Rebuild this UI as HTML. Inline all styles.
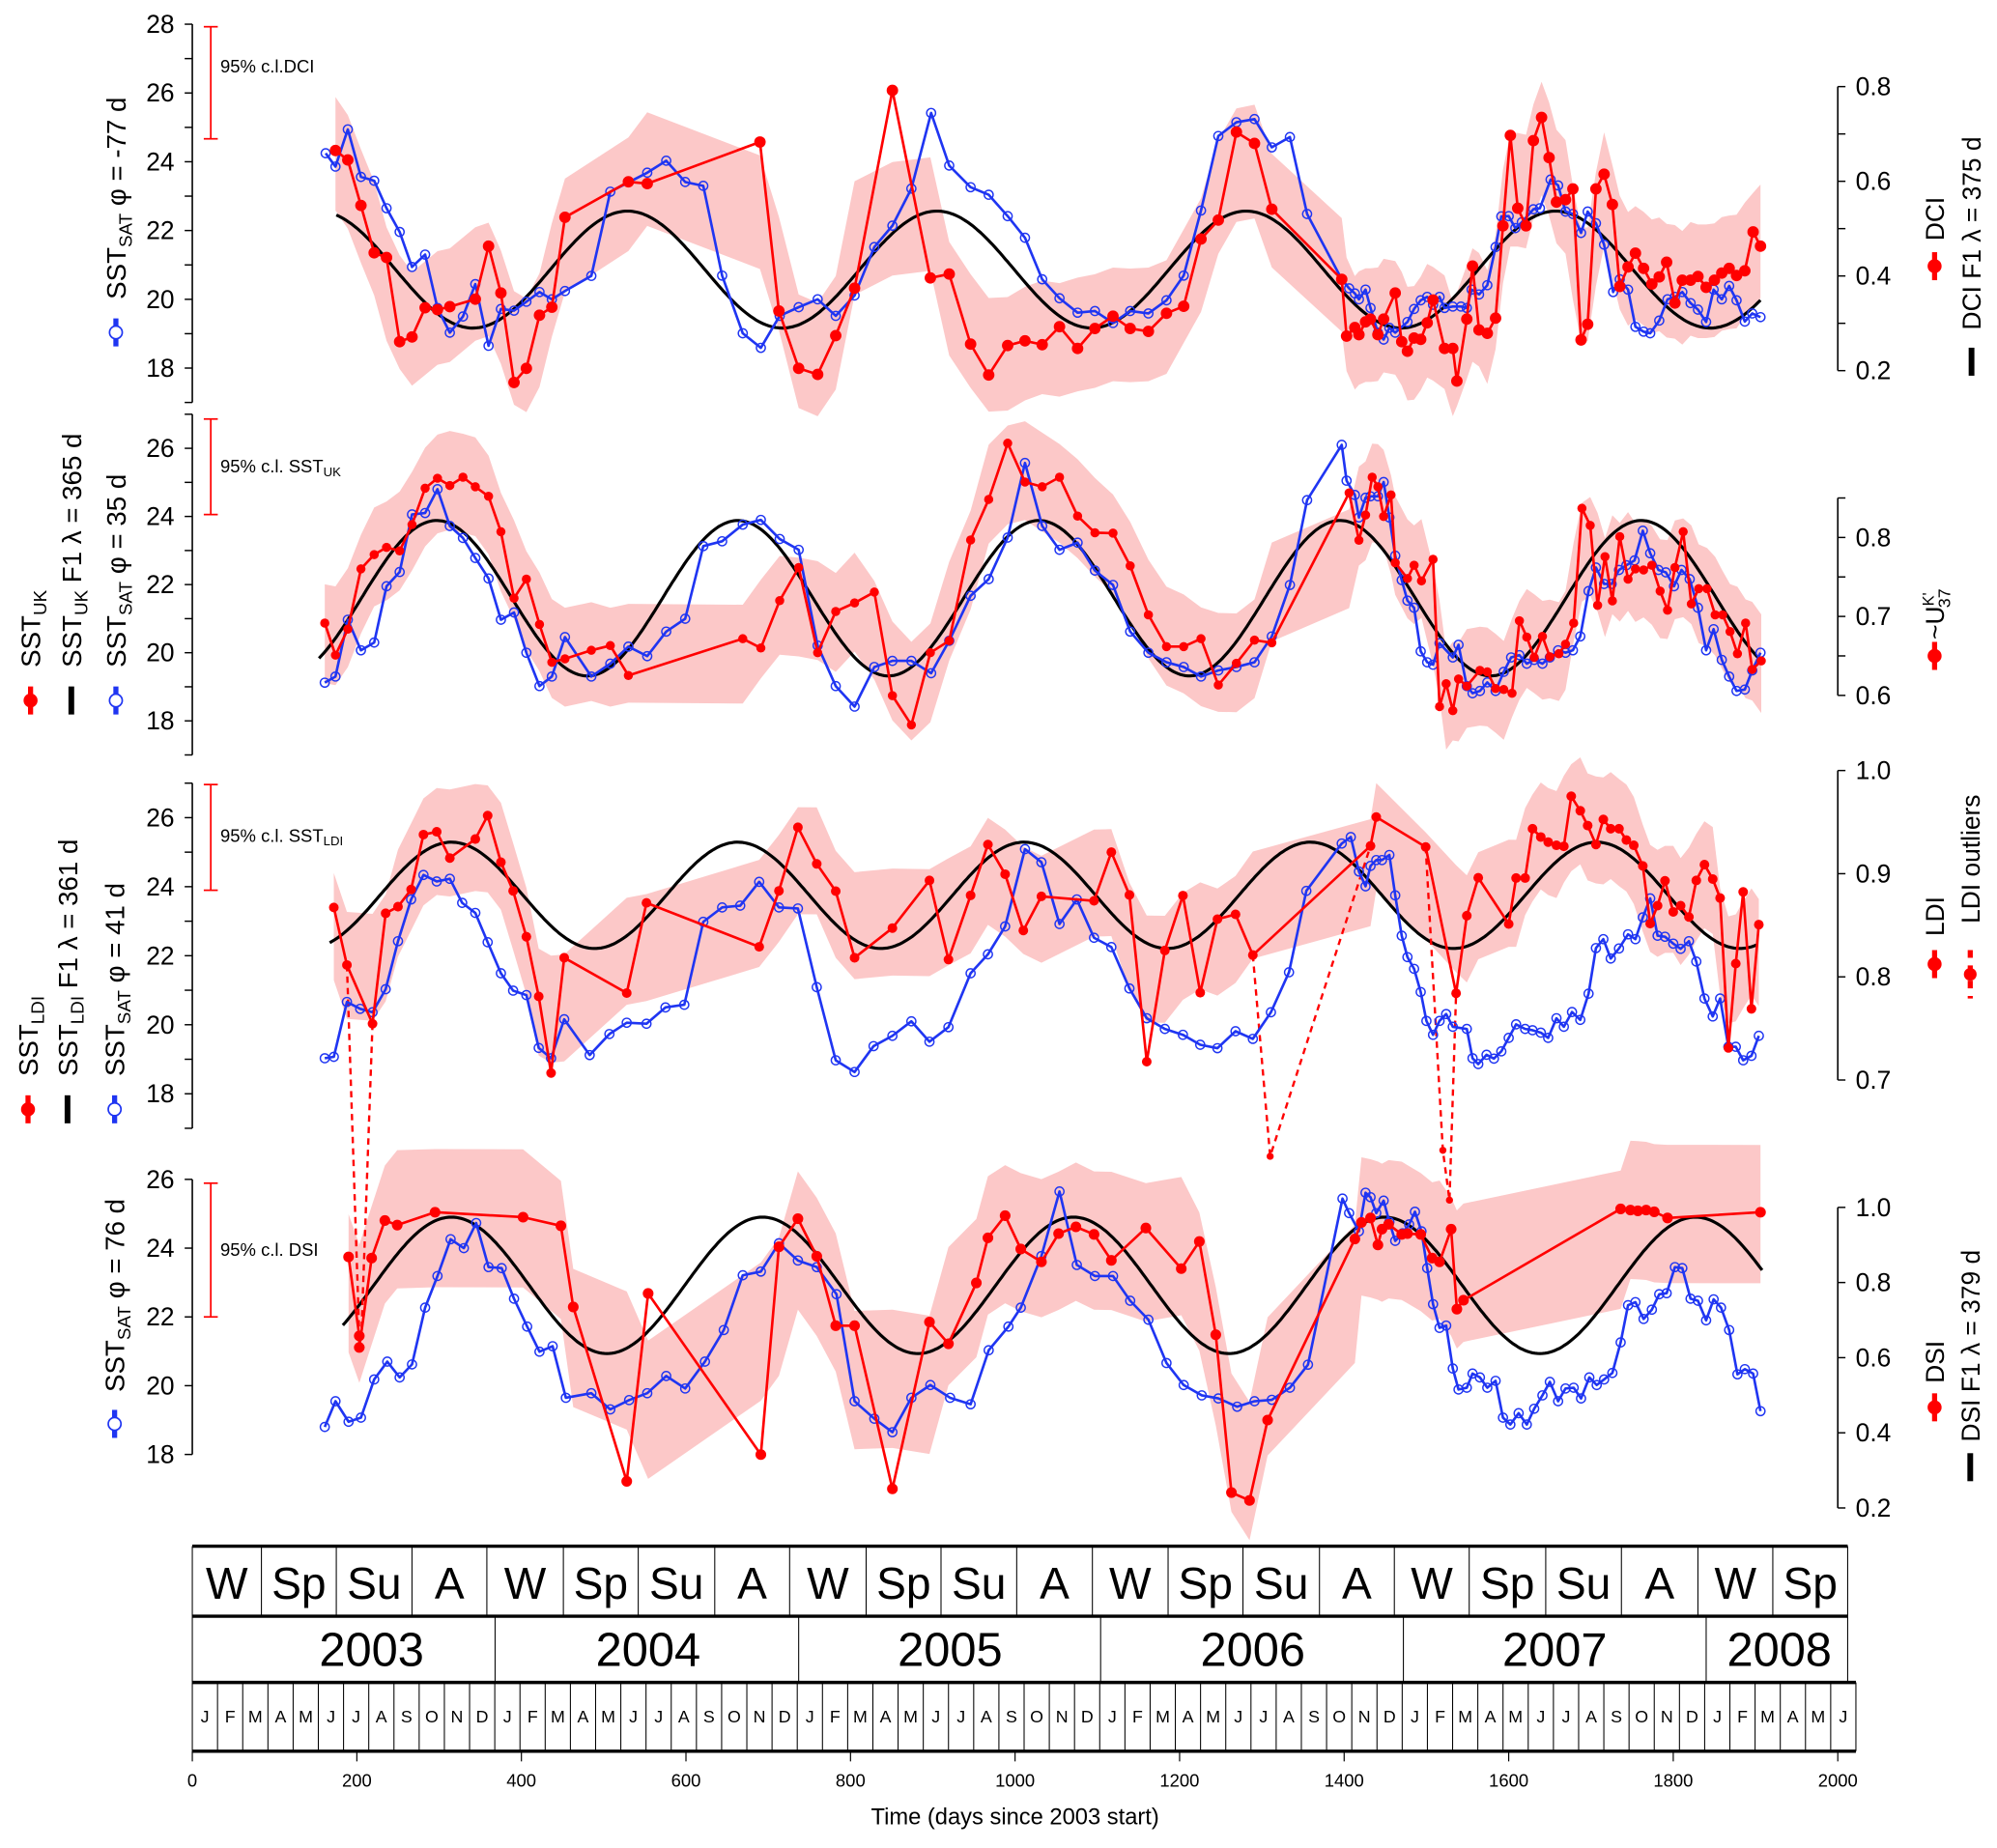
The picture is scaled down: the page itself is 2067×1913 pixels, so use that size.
<!DOCTYPE html>
<html><head><meta charset="utf-8"><title>SST proxies chart</title>
<style>
html,body{margin:0;padding:0;background:#fff;}
svg{display:block;}
text{font-family:"Liberation Sans","DejaVu Sans",sans-serif;fill:#000;}
</style></head>
<body>
<svg id="chart" xmlns="http://www.w3.org/2000/svg" width="2067" height="1913" viewBox="0 0 1568 1451" preserveAspectRatio="none">
<rect x="0" y="0" width="1568" height="1451" fill="#fff"/>
<g id="bands"></g>
<g id="table"></g>
<g id="axes"></g>
<g id="fits"></g>
<g id="series"></g>
<g id="labels"></g>
</svg>
<script>
// ---------- DATA ----------
const p1SatDays=[162,174,189,205,221,236,252,267,283,298,313,329,344,360,375,391,406,422,437,453,485,508,553,576,599,621,644,669,691,714,737,760,782,805,829,851,874,898,920,946,968,
991,1012,1033,1054,1076,1097,1119,1140,1162,1184,1205,1226,1247,1269,1291,1312,1334,1355,1397,1406,1413,1418,1426,1432,1441,1448,1455,1462,1477,1485,1493,1501,1508,1516,1522,1532,1542,1549,1555,1564,1574,1584,1591,1600,1608,1616,1630,1638,1651,1660,1669,1678,1688,1696,1706,1716,1727,1735,1745,1754,1764,1772,1783,1793,1802,1811,1821,1830,1840,1849,1859,1868,1877,1887,1896,1906];
const p1SatT=[24.25,23.86,24.94,23.56,23.45,22.65,21.96,20.94,21.3,19.75,19.03,19.5,20.44,18.65,19.72,19.67,19.93,20.21,20.0,20.24,20.68,23.13,23.68,24.03,23.41,23.3,20.69,19.01,18.59,19.52,19.77,20.0,19.52,20.11,21.52,22.14,23.22,25.42,23.89,23.26,23.04,
22.42,21.79,20.58,20.03,19.61,19.66,19.31,19.66,19.59,19.97,20.69,22.58,24.75,25.15,25.24,24.42,24.72,22.48,20.58,20.32,20.17,20.0,20.28,19.75,19.03,18.83,19.17,19.03,19.34,19.72,19.97,20.07,19.84,20.07,19.75,19.79,19.79,19.75,20.28,20.14,20.41,21.52,22.41,22.42,22.07,22.24,22.62,22.65,23.48,23.31,22.55,22.48,21.93,22.55,22.21,21.59,20.21,20.58,20.28,19.2,19.06,19.01,19.38,20.0,20.07,20.21,19.89,19.7,19.34,20.28,20.0,20.39,19.97,19.35,19.59,19.48];
const p1DciDays=[174,189,205,221,236,252,267,283,298,313,344,360,375,391,406,422,437,453,530,553,690,713,737,760,782,805,851,897,920,946,968,
991,1012,1033,1054,1076,1097,1119,1140,1162,1184,1205,1226,1247,1269,1291,1312,1397,1403,1413,1418,1426,1432,1441,1448,1462,1470,1477,1485,1493,1501,1508,1522,1532,1537,1549,1556,1564,1574,1584,1593,1602,1611,1621,1630,1640,1649,1658,1669,1678,1688,1696,1706,1716,1726,1735,1745,1754,1764,1774,1783,1792,1802,1811,1821,1830,1840,1850,1859,1868,1877,1887,1897,1906];
const p1Dci=[0.665,0.645,0.549,0.449,0.439,0.261,0.271,0.333,0.329,0.335,0.351,0.463,0.364,0.175,0.205,0.317,0.334,0.524,0.599,0.595,0.683,0.326,0.205,0.192,0.274,0.374,0.792,0.396,0.404,0.256,0.191,
0.253,0.263,0.255,0.293,0.247,0.289,0.315,0.289,0.283,0.321,0.336,0.478,0.518,0.704,0.68,0.541,0.393,0.273,0.291,0.276,0.303,0.309,0.276,0.309,0.364,0.261,0.241,0.269,0.266,0.301,0.349,0.247,0.247,0.178,0.309,0.421,0.286,0.279,0.311,0.506,0.697,0.543,0.506,0.686,0.735,0.65,0.556,0.561,0.584,0.265,0.298,0.584,0.615,0.551,0.378,0.419,0.448,0.416,0.383,0.398,0.429,0.343,0.391,0.391,0.399,0.376,0.391,0.406,0.416,0.401,0.411,0.493,0.463];

const p2SatDays=[161,174,189,205,221,236,252,267,283,298,313,329,344,360,375,391,406,422,437,453,485,508,530,553,576,599,621,644,669,691,714,737,760,782,805,829,851,874,898,920,946,968,
991,1012,1033,1054,1076,1097,1119,1140,1162,1184,1205,1226,1247,1269,1291,1312,1334,1355,1397,1403,1413,1418,1426,1432,1441,1448,1455,1462,1470,1477,1485,1493,1501,1508,1516,1532,1539,1549,1556,1565,1574,1584,1594,1603,1613,1622,1631,1641,1650,1660,1669,1678,1687,1697,1706,1716,1725,1734,1743,1753,1763,1772,1782,1791,1801,1810,1820,1830,1840,1849,1859,1868,1877,1887,1896,1906];
const p2SatT=[19.12,19.3,20.97,20.07,20.3,21.95,22.37,24.06,24.1,24.8,23.72,23.37,22.78,22.18,20.97,21.18,20.0,19.02,19.3,20.46,19.3,19.68,20.18,19.9,20.62,21.0,23.13,23.27,23.76,23.9,23.34,23.02,20.21,19.02,18.42,19.58,19.76,19.76,19.4,20.35,21.67,22.16,
23.38,25.57,23.72,23.02,23.23,22.41,21.99,20.62,20.0,19.72,19.58,19.3,19.48,19.58,19.72,20.48,21.99,24.48,26.1,25.05,24.63,23.97,24.55,24.59,24.59,25.01,23.97,22.85,22.13,21.53,21.32,20.04,19.72,19.65,20.28,19.86,20.23,19.02,18.81,18.88,19.13,18.88,19.44,19.86,19.93,19.68,19.79,19.68,19.86,20.07,20.0,20.07,20.48,21.81,22.5,22.02,22.02,22.43,22.57,22.71,23.58,22.92,22.43,22.36,21.95,22.43,22.16,21.32,20.07,20.69,19.79,19.3,18.88,18.92,19.48,20.0];
const p2UkDays=[161,174,189,205,221,236,252,267,283,298,313,329,344,360,375,391,406,422,437,453,485,508,530,669,691,714,737,760,782,805,829,851,874,897,920,946,968,
991,1012,1033,1054,1076,1097,1119,1140,1162,1184,1205,1226,1247,1269,1291,1312,1406,1418,1426,1434,1441,1448,1457,1462,1477,1485,1494,1508,1516,1524,1532,1539,1549,1565,1574,1584,1594,1604,1613,1622,1631,1641,1650,1661,1669,1679,1689,1699,1708,1717,1726,1735,1745,1754,1764,1774,1784,1793,1802,1812,1822,1831,1841,1851,1860,1869,1878,1888,1896,1907];
const p2UkT=[20.87,19.93,20.69,22.46,22.88,23.09,22.99,23.76,24.83,25.12,24.91,25.15,24.87,24.59,23.55,21.6,22.16,20.83,19.72,19.82,20.07,20.21,19.33,20.41,20.14,21.53,22.5,20.0,21.21,21.46,21.78,18.74,17.88,20.0,20.35,23.31,24.5,
26.15,25.01,24.87,25.15,24.01,23.52,23.51,22.55,21.11,20.18,20.18,20.41,19.05,19.69,20.37,20.29,24.69,23.3,24.04,25.15,24.87,24.0,24.63,22.64,22.18,22.57,22.11,22.74,18.42,19.09,18.3,19.23,19.02,19.48,19.44,18.95,18.92,18.81,20.94,20.46,19.86,20.48,19.88,19.97,20.25,20.87,24.24,23.74,21.39,22.82,21.52,23.41,22.16,22.46,22.43,22.57,21.81,21.25,22.5,23.55,21.43,21.88,21.88,21.11,21.11,20.62,19.97,20.87,19.51,19.76];

const p3SatDays=[161,172,188,204,219,235,250,266,281,297,313,328,344,359,375,390,406,421,436,452,483,507,528,552,575,598,621,644,666,689,713,736,759,782,805,828,851,874,896,919,946,967,988,
1012,1032,1054,1075,1096,1117,1139,1160,1182,1204,1225,1246,1268,1289,1311,1333,1354,1397,1408,1418,1426,1432,1439,1446,1455,1462,1470,1477,1485,1493,1500,1508,1516,1524,1532,1549,1556,1563,1573,1582,1591,1600,1609,1620,1629,1639,1648,1658,1667,1677,1687,1697,1706,1715,1724,1734,1745,1754,1763,1772,1781,1790,1800,1809,1819,1828,1838,1848,1857,1867,1876,1885,1895,1904];
const p3SatT=[19.03,19.07,20.66,20.46,20.36,21.03,22.42,23.63,24.34,24.15,24.23,23.53,23.24,22.39,21.49,20.99,20.86,19.33,19.03,20.16,19.12,19.73,20.06,20.03,20.5,20.58,22.98,23.4,23.45,24.14,23.4,23.37,21.09,18.97,18.63,19.38,19.68,20.1,19.51,19.93,21.49,22.04,22.85,
25.09,24.71,22.92,23.63,22.52,22.25,21.05,20.19,19.88,19.71,19.42,19.32,19.81,19.59,20.36,21.52,23.88,25.25,25.44,24.44,24.01,24.6,24.77,24.77,24.92,23.75,22.58,21.96,21.62,20.95,20.11,19.71,20.11,20.31,19.94,19.88,19.03,18.86,19.13,19.02,19.23,19.62,20.01,19.88,19.84,19.77,19.62,20.19,19.94,20.37,20.14,20.9,22.22,22.48,21.92,22.21,22.62,22.48,23.11,23.66,22.58,22.55,22.35,22.2,22.42,21.83,20.76,20.24,20.76,19.36,19.36,18.97,19.1,19.68];
const p3LdiDays=[172,188,219,235,250,266,281,297,313,344,359,375,390,406,421,436,452,528,552,689,713,736,759,782,805,851,896,919,946,967,988,
1010,1032,1096,1117,1139,1160,1182,1204,1225,1246,1268,1289,1432,1439,1499,1536,1549,1563,1600,1609,1620,1629,1639,1648,1658,1667,1676,1687,1696,1706,1715,1724,1734,1743,1752,1763,1772,1781,1790,1800,1809,1819,1828,1838,1848,1857,1867,1876,1885,1895,1904];
const p3LdiT=[23.4,21.73,20.03,23.23,23.42,23.92,25.51,25.59,24.83,25.38,26.06,24.71,23.88,22.55,20.82,18.6,21.94,20.92,23.53,22.26,23.88,25.72,24.66,23.87,21.94,22.8,24.18,21.89,23.75,25.22,24.36,
22.73,23.72,23.59,25.0,23.76,18.93,22.15,23.74,20.93,23.06,23.2,22.02,25.18,26.02,25.15,20.91,23.16,24.26,22.92,24.25,24.25,25.68,25.44,25.29,25.2,25.17,26.62,26.2,25.77,25.22,25.95,25.68,25.68,25.35,25.2,24.6,22.93,23.45,24.17,23.27,23.45,23.12,24.18,24.64,24.22,23.67,19.33,21.77,23.85,20.46,22.9];
const outlierDays=[203,205,1310,1520,1528];
const outlierT=[10.99,10.65,16.19,16.36,14.92];
const outlierPathDays=[[188,203],[219,205],[1289,1310,1432],[1499,1520,1528,1536]];
const outlierPathT=[[21.73,10.99],[20.03,10.65],[22.02,16.19,25.18],[25.15,16.36,14.92,20.91]];

const p4SatDays=[161,174,190,205,221,237,252,267,283,298,314,330,345,360,376,391,407,422,438,454,485,508,531,553,576,599,623,646,669,691,713,736,759,783,805,829,851,874,897,921,946,968,992,1007,
1032,1054,1075,1097,1119,1140,1162,1184,1205,1227,1247,1270,1291,1312,1334,1356,1398,1406,1418,1426,1432,1439,1448,1455,1462,1471,1479,1486,1494,1501,1508,1516,1524,1532,1539,1549,1556,1565,1574,1584,1593,1602,1612,1622,1631,1641,1650,1660,1669,1679,1688,1698,1707,1716,1726,1736,1745,1754,1764,1774,1783,1792,1802,1811,1821,1830,1840,1849,1858,1868,1878,1887,1897,1906];
const p4SatT=[18.8,19.55,18.95,19.07,20.18,20.7,20.24,20.62,22.27,23.19,24.26,24.0,24.73,23.45,23.42,22.53,21.72,20.99,21.15,19.65,19.78,19.31,19.58,19.78,20.28,19.92,20.7,21.62,23.21,23.32,24.14,23.64,23.45,22.66,19.55,19.04,18.65,19.65,20.02,19.65,19.46,21.03,21.72,22.27,
23.77,25.65,23.51,23.19,23.19,22.47,21.92,20.66,20.02,19.72,19.63,19.39,19.55,19.59,19.94,20.61,25.44,25.02,24.49,25.61,25.48,25.02,25.38,24.76,24.21,24.43,24.69,25.06,24.49,23.42,22.37,21.68,21.75,20.5,19.89,19.94,20.35,20.24,19.94,20.14,19.07,18.87,19.2,18.87,19.33,19.72,20.11,19.55,19.92,19.94,19.63,20.24,20.02,20.18,20.37,21.26,22.34,22.43,21.94,22.21,22.66,22.69,23.45,23.42,22.53,22.47,21.9,22.51,22.27,21.62,20.33,20.48,20.35,19.26];
const p4DsiDays=[190,203,203,218,234,249,295,402,448,463,528,554,691,713,736,759,782,805,851,896,919,953,967,988,1007,1032,1053,1074,1096,1117,1159,1202,1224,1244,1263,1285,1307,1413,1421,1432,1441,1446,1454,1470,1477,1493,1507,1516,1530,1537,1545,1736,1748,1757,1767,1777,1793,1906];
const p4Dsi=[0.868,0.658,0.627,0.865,0.965,0.953,0.987,0.974,0.951,0.735,0.271,0.771,0.342,0.895,0.970,0.870,0.685,0.685,0.251,0.695,0.637,0.799,0.919,0.978,0.889,0.855,0.930,0.948,0.928,0.859,0.945,0.837,0.909,0.661,0.241,0.22,0.434,0.916,0.960,0.972,0.900,0.942,0.955,0.928,0.930,0.928,0.865,0.855,0.942,0.729,0.753,0.996,0.993,0.991,0.993,0.988,0.972,0.987];

// sinusoid fit parameters per panel (P1 DCI, P2 degC, P3 degC, P4 DSI)
const fitMean=[0.4135,21.6,23.75,0.7925];
const fitAmp=[0.1235,2.28,1.54,0.1815];
const fitPeriod=[376,366,348,378];
const fitPeak=[529,297,315,315];
const fitStart=[175,154,167,183];
const fitEnd=[1907,1907,1901,1910];
const bandHalf=[0.12,1.45,1.55,0.184];

// axis tick labels
const leftTickVals=[[17,18,19,20,21,22,23,24,25,26,27,28],[17,18,19,20,21,22,23,24,25,26,27],[17,18,19,20,21,22,23,24,25,26,27],[18,20,22,24,26]];
const leftTickLabels=[[18,20,22,24,26,28],[18,20,22,24,26],[18,20,22,24,26],[18,20,22,24,26]];
const rightTickVals=[[0.2,0.3,0.4,0.5,0.6,0.7,0.8],[0.6,0.65,0.7,0.75,0.8,0.85],[0.7,0.8,0.9,1.0],[0.2,0.4,0.6,0.8,1.0]];
const rightTickLabels=[["0.2","0.4","0.6","0.8"],["0.6","0.7","0.8"],["0.7","0.8","0.9","1.0"],["0.2","0.4","0.6","0.8","1.0"]];
const xTicks=[0,200,400,600,800,1000,1200,1400,1600,1800,2000];
const seasonNames=["W","Sp","Su","A","W","Sp","Su","A","W","Sp","Su","A","W","Sp","Su","A","W","Sp","Su","A","W","Sp"];
const seasonEdges=[0,84,175,267,358,451,542,635,726,819,910,1002,1094,1186,1277,1370,1461,1552,1645,1737,1830,1921,2012];
const yearNames=["2003","2004","2005","2006","2007","2008"];
const yearEdges=[0,368,737,1104,1472,1840,2012];
const yearLabelDays=[218,554,921,1289,1656,1929];
const monthLetters=["J","F","M","A","M","J","J","A","S","O","N","D"];
const monthCount=66;
const monthSpanDays=2022;

// ---------- SCALES ----------
const NS="http://www.w3.org/2000/svg";
const X0=151, XS=0.646;
function x(d){return X0+d*XS;}
const yL=[T=>19+(28-T)*27, T=>352+(26-T)*26.75, T=>642+(26-T)*27.1, T=>926+(26-T)*27];
const yR=[v=>68+(0.8-v)*371.7, v=>422+(0.8-v)*620, v=>605+(1-v)*810, v=>948+(1-v)*295];
function mk(tag,attrs,parent){const e=document.createElementNS(NS,tag);for(const k in attrs)e.setAttribute(k,attrs[k]);parent.appendChild(e);return e;}
const gB=document.getElementById('bands'),gT=document.getElementById('table'),gA=document.getElementById('axes'),gF=document.getElementById('fits'),gS=document.getElementById('series'),gL=document.getElementById('labels');
const RED="#ff0000",BLUE="#1f35f2",PINK="#fcc8c8";

// ---------- BANDS ----------
function drawBand(days,vals,hw,yf,name){
  const n=vals.length,up=[],lo=[];
  for(let i=0;i<n;i++){const a=vals[Math.max(0,i-1)],b=vals[i],c=vals[Math.min(n-1,i+1)];const m=(a+b+c)/3;up.push(x(days[i]).toFixed(1)+","+yf(m+hw).toFixed(1));lo.push(x(days[i]).toFixed(1)+","+yf(m-hw).toFixed(1));}
  const p=mk('polygon',{points:up.concat(lo.reverse()).join(' '),fill:PINK,stroke:'none'},gB);
  
  
}
drawBand(p1DciDays,p1Dci,bandHalf[0],yR[0],'dci-confidence-band');
drawBand(p2UkDays,p2UkT,bandHalf[1],yL[1],'sst-uk-confidence-band');
drawBand(p3LdiDays,p3LdiT,bandHalf[2],yL[2],'sst-ldi-confidence-band');
drawBand(p4DsiDays,p4Dsi,bandHalf[3],yR[3],'dsi-confidence-band');

// ---------- TABLE ----------
function hline(y,x1,x2,w){const l=mk('line',{x1:x1,x2:x2,y1:y,y2:y,stroke:'#000','stroke-width':w},gT);}
function vline(xx,y1,y2){const l=mk('line',{x1:xx,x2:xx,y1:y1,y2:y2,stroke:'#000','stroke-width':0.8},gT);}
const R0=1214,R1=1269,R2=1321,R3=1375;
for(let i=0;i<seasonEdges.length;i++){vline(x(seasonEdges[i]),R0,R1);}
for(let i=0;i<seasonNames.length;i++){
  const t=mk('text',{x:((x(seasonEdges[i])+x(seasonEdges[i+1]))/2).toFixed(1),y:R0+29,'text-anchor':'middle','dominant-baseline':'central','font-size':35},gT);
  t.textContent=seasonNames[i];
  
  
}
for(let i=0;i<yearEdges.length;i++){vline(x(yearEdges[i]),R1,R2);}
for(let i=0;i<yearNames.length;i++){
  const t=mk('text',{x:x(yearLabelDays[i]).toFixed(1),y:R1+27,'text-anchor':'middle','dominant-baseline':'central','font-size':37},gT);
  t.textContent=yearNames[i];
  
  
}
const mW=monthSpanDays/monthCount;
for(let k=0;k<=monthCount;k++){vline(x(k*mW),R2,R3);}
for(let k=0;k<monthCount;k++){
  const t=mk('text',{x:x((k+0.5)*mW).toFixed(1),y:(R2+R3)/2,'text-anchor':'middle','dominant-baseline':'central','font-size':13.5},gT);
  t.textContent=monthLetters[k%12];
  
  
}
hline(R0,x(0),x(2012),2.6);hline(R1,x(0),x(2012),2.6);hline(R2,x(0),x(2022),2.6);hline(R3,x(0),x(2022),2.6);

// ---------- X AXIS ----------
for(const v of xTicks){
  const l=mk('line',{x1:x(v),x2:x(v),y1:R3,y2:R3+8,stroke:'#000','stroke-width':0.9},gA);
  
  
  const t=mk('text',{x:x(v),y:1398,'text-anchor':'middle','dominant-baseline':'central','font-size':14},gA);
  t.textContent=String(v);
  
  
}
{const t=mk('text',{x:797,y:1427,'text-anchor':'middle','dominant-baseline':'central','font-size':18},gA);
t.textContent="Time (days since 2003 start)";

}

// ---------- Y AXES ----------
for(let p=0;p<4;p++){
  const lv=leftTickVals[p];
  const ax=mk('line',{x1:151,x2:151,y1:yL[p](lv[lv.length-1]),y2:yL[p](lv[0]),stroke:'#000','stroke-width':1.2},gA);
  
  
  for(const v of lv){const l=mk('line',{x1:145,x2:151,y1:yL[p](v),y2:yL[p](v),stroke:'#000','stroke-width':1.1},gA);}
  for(const v of leftTickLabels[p]){const t=mk('text',{x:137,y:yL[p](v),'text-anchor':'end','dominant-baseline':'central','font-size':20},gA);t.textContent=String(v);}
  const rv=rightTickVals[p];
  const rx=mk('line',{x1:1443,x2:1443,y1:yR[p](rv[rv.length-1]),y2:yR[p](rv[0]),stroke:'#000','stroke-width':1.2},gA);
  
  
  for(const v of rv){const l=mk('line',{x1:1443,x2:1449,y1:yR[p](v),y2:yR[p](v),stroke:'#000','stroke-width':1.1},gA);}
  for(const s of rightTickLabels[p]){const t=mk('text',{x:1457,y:yR[p](parseFloat(s)),'text-anchor':'start','dominant-baseline':'central','font-size':20},gA);t.textContent=s;}
}

// ---------- FITS ----------
for(let p=0;p<4;p++){
  const yf=(p===0||p===3)?yR[p]:yL[p];const pts=[];
  for(let d=fitStart[p];d<=fitEnd[p];d+=3){pts.push(x(d).toFixed(1)+","+yf(fitMean[p]+fitAmp[p]*Math.cos(2*Math.PI*(d-fitPeak[p])/fitPeriod[p])).toFixed(1));}
  const l=mk('polyline',{points:pts.join(' '),fill:'none',stroke:'#000','stroke-width':2.4},gF);
  
  
}

// ---------- SERIES ----------
function drawLine(days,vals,yf,color,name){
  const pts=days.map((d,i)=>x(d).toFixed(1)+","+yf(vals[i]).toFixed(1));
  const l=mk('polyline',{points:pts.join(' '),fill:'none',stroke:color,'stroke-width':2,'stroke-linejoin':'round'},gS);
  
  
}
function drawOpen(days,vals,yf,name){
  for(let i=0;i<days.length;i++){
    const c=mk('circle',{cx:x(days[i]).toFixed(1),cy:yf(vals[i]).toFixed(1),r:3.5,fill:'none',stroke:BLUE,'stroke-width':1.1},gS);
    
    
  }
}
function drawDots(days,vals,yf,r,name){
  for(let i=0;i<days.length;i++){
    const c=mk('circle',{cx:x(days[i]).toFixed(1),cy:yf(vals[i]).toFixed(1),r:r,fill:RED},gS);
    
    
  }
}
// outlier dashed connectors
for(let k=0;k<outlierPathDays.length;k++){
  const pts=outlierPathDays[k].map((d,i)=>x(d).toFixed(1)+","+yL[2](outlierPathT[k][i]).toFixed(1));
  const l=mk('polyline',{points:pts.join(' '),fill:'none',stroke:RED,'stroke-width':1.8,'stroke-dasharray':'5,4'},gS);
  
  
}
drawLine(p1SatDays,p1SatT,yL[0],BLUE,'sst-sat-line-panel1');
drawOpen(p1SatDays,p1SatT,yL[0],'sst-sat-point-panel1');
drawLine(p1DciDays,p1Dci,yR[0],RED,'dci-line');
drawDots(p1DciDays,p1Dci,yR[0],4.5,'dci-point');
drawLine(p2SatDays,p2SatT,yL[1],BLUE,'sst-sat-line-panel2');
drawOpen(p2SatDays,p2SatT,yL[1],'sst-sat-point-panel2');
drawLine(p2UkDays,p2UkT,yL[1],RED,'sst-uk-line');
drawDots(p2UkDays,p2UkT,yL[1],3.6,'sst-uk-point');
drawLine(p3SatDays,p3SatT,yL[2],BLUE,'sst-sat-line-panel3');
drawOpen(p3SatDays,p3SatT,yL[2],'sst-sat-point-panel3');
drawLine(p3LdiDays,p3LdiT,yL[2],RED,'sst-ldi-line');
drawDots(p3LdiDays,p3LdiT,yL[2],3.8,'sst-ldi-point');
drawDots(outlierDays,outlierT,yL[2],2.8,'ldi-outlier-point');
drawLine(p4SatDays,p4SatT,yL[3],BLUE,'sst-sat-line-panel4');
drawOpen(p4SatDays,p4SatT,yL[3],'sst-sat-point-panel4');
drawLine(p4DsiDays,p4Dsi,yR[3],RED,'dsi-line');
drawDots(p4DsiDays,p4Dsi,yR[3],4.2,'dsi-point');

// ---------- CONFIDENCE BARS ----------
function ciBar(y1,y2,ty,name,main,sub){
  const g=mk('g',{},gL);
  
  
  mk('line',{x1:165.5,x2:165.5,y1:y1,y2:y2,stroke:RED,'stroke-width':1.3},g);
  mk('line',{x1:160,x2:171,y1:y1,y2:y1,stroke:RED,'stroke-width':1.3},g);
  mk('line',{x1:160,x2:171,y1:y2,y2:y2,stroke:RED,'stroke-width':1.3},g);
  const t=mk('text',{x:173,y:ty,'dominant-baseline':'central','font-size':14},g);
  t.textContent=main;
  if(sub){const s=mk('tspan',{'font-size':10,dy:4},t);s.textContent=sub;}
}
ciBar(21,109,52,'ci-bar-dci','95% c.l.DCI','');
ciBar(329,404,366,'ci-bar-sst-uk','95% c.l. SST','UK');
ciBar(616,699,656,'ci-bar-sst-ldi','95% c.l. SST','LDI');
ciBar(929,1034,981,'ci-bar-dsi','95% c.l. DSI','');

// ---------- LEGEND SYMBOLS & ROTATED LABELS ----------
function sym(type,cx,cy,name){
  const g=mk('g',{},gL);
  
  
  if(type==='blue'){mk('line',{x1:cx,x2:cx,y1:cy-11,y2:cy+11,stroke:BLUE,'stroke-width':4},g);mk('circle',{cx:cx,cy:cy,r:5,fill:'#fff',stroke:BLUE,'stroke-width':1.3},g);}
  else if(type==='red'){mk('line',{x1:cx,x2:cx,y1:cy-11,y2:cy+11,stroke:RED,'stroke-width':4},g);mk('circle',{cx:cx,cy:cy,r:5.5,fill:RED},g);}
  else if(type==='black'){mk('line',{x1:cx,x2:cx,y1:cy-11,y2:cy+11,stroke:'#000','stroke-width':4.5},g);}
  else {mk('line',{x1:cx,x2:cx,y1:cy-19,y2:cy+19,stroke:RED,'stroke-width':4,'stroke-dasharray':'6,6'},g);mk('circle',{cx:cx,cy:cy,r:5,fill:RED},g);}
}
function rlabel(cx,yStart,parts,fs,name){
  const bx=cx+fs*0.36;
  const t=mk('text',{x:bx,y:yStart,transform:'rotate(-90 '+bx+' '+yStart+')','font-size':fs},gL);
  
  
  let shift=0;
  for(const p of parts){
    const s=mk('tspan',{},t);
    let target=0;
    if(p.sub){s.setAttribute('font-size',fs*0.68);target=5;}
    if(p.sup){s.setAttribute('font-size',fs*0.62);target=-8;}
    if(p.dx)s.setAttribute('dx',p.dx);
    s.setAttribute('dy',target-shift);shift=target;
    s.textContent=p.t;
  }
}
// left legends
sym('blue',91,261,'legend-symbol-sst-sat-panel1');
rlabel(91,235,[{t:'SST'},{t:'SAT',sub:1},{t:' φ = -77 d'}],21,'legend-sst-sat-panel1');
sym('red',24,550,'legend-symbol-sst-uk');
rlabel(24,524,[{t:'SST'},{t:'UK',sub:1}],21,'legend-sst-uk');
sym('black',56,550,'legend-symbol-sst-uk-fit');
rlabel(56,524,[{t:'SST'},{t:'UK',sub:1},{t:' F1 λ = 365 d'}],21,'legend-sst-uk-fit');
sym('blue',91,550,'legend-symbol-sst-sat-panel2');
rlabel(91,524,[{t:'SST'},{t:'SAT',sub:1},{t:' φ = 35 d'}],21,'legend-sst-sat-panel2');
sym('red',22,871,'legend-symbol-sst-ldi');
rlabel(22,845,[{t:'SST'},{t:'LDI',sub:1}],21,'legend-sst-ldi');
sym('black',53,871,'legend-symbol-sst-ldi-fit');
rlabel(53,845,[{t:'SST'},{t:'LDI',sub:1},{t:' F1 λ = 361 d'}],21,'legend-sst-ldi-fit');
sym('blue',90,871,'legend-symbol-sst-sat-panel3');
rlabel(90,845,[{t:'SST'},{t:'SAT',sub:1},{t:' φ = 41 d'}],21,'legend-sst-sat-panel3');
sym('blue',90,1118,'legend-symbol-sst-sat-panel4');
rlabel(90,1093,[{t:'SST'},{t:'SAT',sub:1},{t:' φ = 76 d'}],21,'legend-sst-sat-panel4');
// right legends
sym('red',1519,209,'legend-symbol-dci');
rlabel(1519,189,[{t:'DCI'}],20,'legend-dci');
sym('black',1548,284,'legend-symbol-dci-fit');
rlabel(1548,259,[{t:'DCI F1 λ = 375 d'}],20,'legend-dci-fit');
sym('red',1519,515,'legend-symbol-uk37');
rlabel(1519,502,[{t:'~U'},{t:"K'",sup:1},{t:'37',sub:1,dx:-12}],20,'legend-uk37');
sym('red',1519,757,'legend-symbol-ldi');
rlabel(1519,735,[{t:'LDI'}],20,'legend-ldi');
sym('dash',1547,765,'legend-symbol-ldi-outliers');
rlabel(1547,725,[{t:'LDI outliers'}],20,'legend-ldi-outliers');
sym('red',1519,1105,'legend-symbol-dsi');
rlabel(1519,1086,[{t:'DSI'}],20,'legend-dsi');
sym('black',1547,1152,'legend-symbol-dsi-fit');
rlabel(1547,1132,[{t:'DSI F1 λ = 379 d'}],20,'legend-dsi-fit');
</script>
</body></html>
